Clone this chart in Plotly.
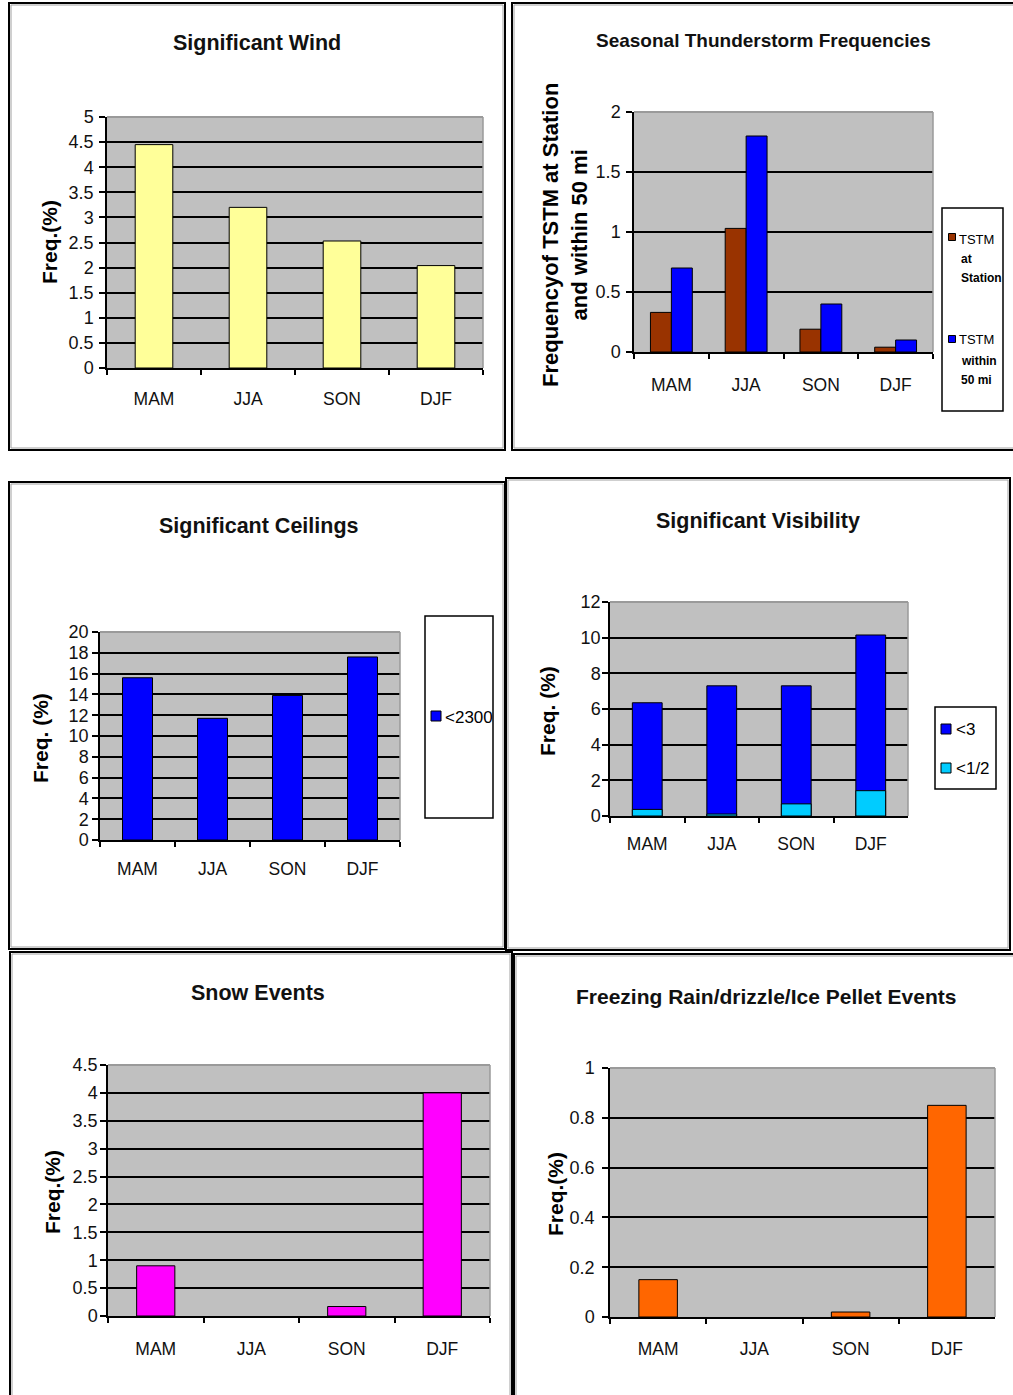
import plotly.graph_objects as go

# Page size in pixels; every panel is laid out on this grid
W, H = 1013, 1395

# ---- data -------------------------------------------------------------
seasons = ["MAM", "JJA", "SON", "DJF"]

wind_freq = [4.45, 3.2, 2.53, 2.04]            # Significant Wind, Freq.(%)
tstm_station = [0.33, 1.03, 0.19, 0.04]        # TSTM at Station
tstm_50mi = [0.70, 1.80, 0.40, 0.10]           # TSTM within 50 mi
ceiling_lt2300 = [15.6, 11.7, 13.9, 17.6]      # ceilings <2300
vis_lt3 = [6.35, 7.3, 7.3, 10.15]              # visibility <3
vis_lthalf = [0.37, 0.11, 0.68, 1.42]          # visibility <1/2
snow_freq = [0.9, 0.0, 0.17, 4.0]              # snow events
frzra_freq = [0.15, 0.0, 0.02, 0.85]           # freezing rain / drizzle / ice pellets

# ---- styling ----------------------------------------------------------
SANS = "Liberation Sans, Arial, Helvetica, sans-serif"
PLOT_BG = "#C0C0C0"


def px_x(v):
    return v / W


def px_y(v):
    return 1 - v / H


def outline(values):
    # black bar edges; empty seasons get no edge at all
    return dict(color="black", width=[0 if v == 0 else 1 for v in values])


# plot-area boxes (left, top, right, bottom) in page pixels, y max, tick step,
# y tick-label standoff, x tick-label standoff
panels = [
    dict(box=(107, 117, 483, 368), ymax=5, dtick=0.5, ystand=2, xstand=14),
    dict(box=(634, 112, 933, 352), ymax=2, dtick=0.5, ystand=2, xstand=16),
    dict(box=(100, 632, 400, 840), ymax=20, dtick=2, ystand=0, xstand=12),
    dict(box=(610, 602, 908, 816), ymax=12, dtick=2, ystand=-2, xstand=11),
    dict(box=(108, 1065, 490, 1316), ymax=4.5, dtick=0.5, ystand=-1, xstand=16),
    dict(box=(610, 1068, 995, 1317), ymax=1, dtick=0.2, ystand=4, xstand=15),
]

fig = go.Figure()

# Significant Wind
fig.add_trace(go.Bar(x=seasons, y=wind_freq, xaxis="x", yaxis="y",
                     marker=dict(color="#FFFF99", line=outline(wind_freq)),
                     width=0.4, offset=-0.2, showlegend=False))
# Seasonal Thunderstorm Frequencies
fig.add_trace(go.Bar(x=seasons, y=tstm_station, xaxis="x2", yaxis="y2",
                     name="TSTM at Station",
                     marker=dict(color="#993300", line=outline(tstm_station)),
                     width=0.28, offset=-0.28, showlegend=False))
fig.add_trace(go.Bar(x=seasons, y=tstm_50mi, xaxis="x2", yaxis="y2",
                     name="TSTM within 50 mi",
                     marker=dict(color="#0000FF", line=outline(tstm_50mi)),
                     width=0.28, offset=0.0, showlegend=False))
# Significant Ceilings
fig.add_trace(go.Bar(x=seasons, y=ceiling_lt2300, xaxis="x3", yaxis="y3",
                     name="<2300",
                     marker=dict(color="#0000FF", line=outline(ceiling_lt2300)),
                     width=0.4, offset=-0.2, showlegend=False))
# Significant Visibility (the <1/2 share drawn in front of the <3 total)
fig.add_trace(go.Bar(x=seasons, y=vis_lt3, xaxis="x4", yaxis="y4",
                     name="<3",
                     marker=dict(color="#0000FF", line=outline(vis_lt3)),
                     width=0.4, offset=-0.2, showlegend=False))
fig.add_trace(go.Bar(x=seasons, y=vis_lthalf, xaxis="x4", yaxis="y4",
                     name="<1/2",
                     marker=dict(color="#00CCFF", line=outline(vis_lthalf)),
                     width=0.4, offset=-0.2, showlegend=False))
# Snow Events
fig.add_trace(go.Bar(x=seasons, y=snow_freq, xaxis="x5", yaxis="y5",
                     marker=dict(color="#FF00FF", line=outline(snow_freq)),
                     width=0.4, offset=-0.2, showlegend=False))
# Freezing Rain/drizzle/Ice Pellet Events
fig.add_trace(go.Bar(x=seasons, y=frzra_freq, xaxis="x6", yaxis="y6",
                     marker=dict(color="#FF6600", line=outline(frzra_freq)),
                     width=0.4, offset=-0.2, showlegend=False))

layout = dict(
    template="none",
    width=W, height=H,
    autosize=False,
    margin=dict(l=0, r=0, t=0, b=0, pad=0, autoexpand=False),
    paper_bgcolor="white",
    plot_bgcolor=PLOT_BG,
    barmode="group",
    showlegend=False,
)

shapes = []
annotations = []

for i, p in enumerate(panels, start=1):
    x0, y0, x1, y1 = p["box"]
    sx = "" if i == 1 else str(i)
    layout["xaxis" + sx] = dict(
        domain=[px_x(x0), px_x(x1)],
        anchor="y" + sx,
        type="category",
        categoryorder="array", categoryarray=seasons,
        range=[-0.5, 3.5],
        automargin=False,
        showline=True, linecolor="black", linewidth=1.5,
        ticks="outside", tickson="boundaries", ticklen=5,
        tickcolor="black", tickwidth=1.5,
        showgrid=False, zeroline=False,
        tickfont=dict(family=SANS, size=17.5, color="#111"),
        ticklabelstandoff=p["xstand"],
        fixedrange=True,
    )
    layout["yaxis" + sx] = dict(
        domain=[px_y(y1), px_y(y0)],
        anchor="x" + sx,
        range=[0, p["ymax"]],
        tick0=0, dtick=p["dtick"],
        automargin=False,
        showline=True, linecolor="black", linewidth=1.5,
        ticks="outside", ticklen=6, tickcolor="black", tickwidth=1.5,
        showgrid=True, gridcolor="black", gridwidth=1.5,
        zeroline=False,
        tickfont=dict(family=SANS, size=18, color="#111"),
        ticklabelstandoff=p["ystand"],
        fixedrange=True,
    )
    # grey plot-area edge along the top and right
    xr, yr = "x" + sx + " domain", "y" + sx + " domain"
    shapes.append(dict(type="line", xref=xr, yref=yr, x0=0, x1=1, y0=1, y1=1,
                       line=dict(color="#9A9A9A", width=2), layer="above"))
    shapes.append(dict(type="line", xref=xr, yref=yr, x0=1, x1=1, y0=0, y1=1,
                       line=dict(color="#9A9A9A", width=1.5), layer="above"))

# chart frames: black outer edge with a thin grey inner edge
frames = [
    (9, 3, 505, 450),
    (512, 3, 1016, 450),
    (9, 482, 505, 949),
    (506, 478, 1010, 950),
    (10, 952, 512, 1398),
    (514, 954, 1016, 1398),
]
for fx0, fy0, fx1, fy1 in frames:
    shapes.append(dict(type="rect", xref="paper", yref="paper",
                       x0=px_x(fx0 + 2), x1=px_x(fx1 - 2), y0=px_y(fy1 - 2), y1=px_y(fy0 + 2),
                       line=dict(color="#A0A0A0", width=1), fillcolor="rgba(0,0,0,0)"))
    shapes.append(dict(type="rect", xref="paper", yref="paper",
                       x0=px_x(fx0), x1=px_x(fx1), y0=px_y(fy1), y1=px_y(fy0),
                       line=dict(color="black", width=2), fillcolor="rgba(0,0,0,0)"))

# chart titles
titles = [
    ("Significant Wind", 257, 43, 21.5),
    ("Seasonal Thunderstorm Frequencies", 763, 40, 19),
    ("Significant Ceilings", 259, 526, 21.5),
    ("Significant Visibility", 758, 521, 21.5),
    ("Snow Events", 258, 993, 21.5),
    ("Freezing Rain/drizzle/Ice Pellet Events", 766, 996, 21),
]
for text, cx, cy, size in titles:
    annotations.append(dict(text="<b>" + text + "</b>", xref="paper", yref="paper",
                            x=px_x(cx), y=px_y(cy), xanchor="center", yanchor="middle",
                            showarrow=False, font=dict(family=SANS, size=size, color="#111")))

# y-axis titles
ytitles = [
    ("Freq.(%)", 50, 242, 21),
    ("Frequencyof TSTM at Station<br>and within 50 mi", 565, 235, 22),
    ("Freq. (%)", 40, 738, 21),
    ("Freq. (%)", 547, 711, 21),
    ("Freq.(%)", 52, 1192, 21),
    ("Freq.(%)", 555, 1194, 21),
]
for text, cx, cy, size in ytitles:
    annotations.append(dict(text="<b>" + text + "</b>", xref="paper", yref="paper",
                            x=px_x(cx), y=px_y(cy), xanchor="center", yanchor="middle",
                            textangle=-90, showarrow=False,
                            font=dict(family=SANS, size=size, color="black")))

# legend boxes
legend_boxes = [
    (942, 208, 1003, 411),
    (425, 616, 493, 818),
    (935, 707, 996, 789),
]
for bx0, by0, bx1, by1 in legend_boxes:
    shapes.append(dict(type="rect", xref="paper", yref="paper",
                       x0=px_x(bx0), x1=px_x(bx1), y0=px_y(by1), y1=px_y(by0),
                       line=dict(color="black", width=1.5), fillcolor="white"))

# legend keys: (colour, centre x, centre y, size)
legend_keys = [
    ("#993300", 952, 237, 7),
    ("#0000FF", 952, 339, 7),
    ("#0000FF", 436, 716, 10),
    ("#0000FF", 946, 729, 10),
    ("#00CCFF", 946, 768, 10),
]
for col, kx, ky, s in legend_keys:
    h = s / 2
    shapes.append(dict(type="rect", xref="paper", yref="paper",
                       x0=px_x(kx - h), x1=px_x(kx + h), y0=px_y(ky + h), y1=px_y(ky - h),
                       line=dict(color="black", width=1), fillcolor=col))

# legend labels: (text, left x, centre y, size, bold)
legend_labels = [
    ("TSTM", 957, 239, 13, False),
    ("at", 959, 259, 12, True),
    ("Station", 959, 278, 12, True),
    ("TSTM", 957, 340, 13, False),
    ("within", 959, 361, 12, True),
    ("50 mi", 959, 380, 12, True),
    ("<2300", 443, 717, 17, False),
    ("<3", 954, 729, 17, False),
    ("<1/2", 954, 768, 17, False),
]
for text, lx, ly, size, bold in legend_labels:
    annotations.append(dict(text=("<b>%s</b>" % text) if bold else text,
                            xref="paper", yref="paper",
                            x=px_x(lx), y=px_y(ly), xanchor="left", yanchor="middle",
                            showarrow=False,
                            font=dict(family=SANS, size=size, color="black")))

layout["shapes"] = shapes
layout["annotations"] = annotations
fig.update_layout(**layout)

fig.write_html("out.html")
